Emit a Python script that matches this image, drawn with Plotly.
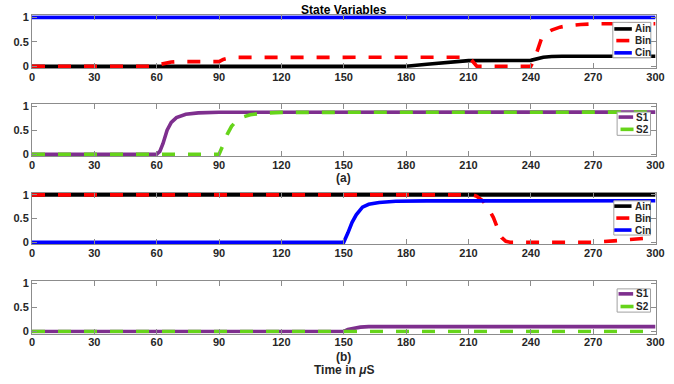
import plotly.graph_objects as go

W, H = 674, 384

# ---------------- data ----------------
x_ticks = [0, 30, 60, 90, 120, 150, 180, 210, 240, 270, 300]
y_ticks = [0, 0.5, 1]
y_ticktext = ["0", "0.5", "1"]

# (a) top panel
t_ain_a = [0, 180, 190, 200, 210, 240, 243, 246, 250, 255, 300]
ain_a   = [0, 0, 0.04, 0.08, 0.115, 0.12, 0.16, 0.185, 0.2, 0.205, 0.205]
t_bin_a = [0, 60, 62, 64, 67, 70, 90, 92, 95, 98, 210, 211, 212.5, 214, 240, 241, 243, 245, 247, 250, 254, 258, 264, 272, 300]
bin_a   = [0, 0, 0.04, 0.065, 0.085, 0.093, 0.095, 0.14, 0.17, 0.18, 0.184, 0.15, 0.06, 0, 0, 0.08, 0.3, 0.55, 0.67, 0.74, 0.8, 0.83, 0.855, 0.868, 0.87]
t_cin_a = [0, 300]
cin_a   = [1, 1]

# (a) second panel
t_s1_a = [0, 60, 61.5, 63, 65, 67, 69.5, 72, 74, 80, 90, 300]
s1_a   = [0, 0, 0.06, 0.22, 0.5, 0.66, 0.76, 0.8, 0.83, 0.86, 0.872, 0.875]
t_s2_a = [0, 90, 92, 94, 96, 99, 102, 105, 110, 120, 300]
s2_a   = [0, 0, 0.2, 0.42, 0.58, 0.72, 0.78, 0.82, 0.85, 0.87, 0.875]

# (b) third panel
t_ain_b = [0, 300]
ain_b   = [1, 1]
t_bin_b = [0, 212, 214, 217, 220, 222, 224, 226, 228, 230, 270, 275, 280, 285, 290, 295, 300]
bin_b   = [1, 1, 0.97, 0.87, 0.68, 0.52, 0.3, 0.1, 0.02, 0, 0, 0.01, 0.03, 0.05, 0.07, 0.085, 0.1]
t_cin_b = [0, 150, 152, 154, 156, 159, 162, 167, 175, 190, 300]
cin_b   = [0, 0, 0.2, 0.42, 0.58, 0.74, 0.8, 0.84, 0.865, 0.872, 0.875]

# (b) fourth panel
t_s1_b = [0, 150, 152, 155, 158, 162, 300]
s1_b   = [0, 0, 0.04, 0.07, 0.09, 0.1, 0.1]
t_s2_b = [0, 300]
s2_b   = [0, 0]

# ---------------- styling ----------------
BLACK, RED, BLUE = "#000000", "#FF0000", "#0000FF"
PURPLE, GREEN = "#7E2F8E", "#66D41A"
AXC = "#8c8c8c"
TXT = "#262626"
FONT = "Liberation Sans"
DASH = "13px,13px"
LW = 3.6

# empirical correction between layout pixels and photographed pixels
OFF, SC = 3.3, 0.982

def px(x):
    return ((x - OFF) / SC) / W

def py(y):
    return 1 - ((y - OFF) / SC) / H

# panel pixel positions (photographed) of data 0 / data 1
X0, X1 = 32.3, 655.7
panels = [(16.7, 65.7), (105.7, 154.0), (194.7, 242.3), (283.3, 331.7)]
PAD = 0.045

fig = go.Figure()

series = [
    (1, t_ain_a, ain_a, "Ain", BLACK, "solid"),
    (1, t_bin_a, bin_a, "Bin", RED, DASH),
    (1, t_cin_a, cin_a, "Cin", BLUE, "solid"),
    (2, t_s1_a, s1_a, "S1", PURPLE, "solid"),
    (2, t_s2_a, s2_a, "S2", GREEN, DASH),
    (3, t_ain_b, ain_b, "Ain", BLACK, "solid"),
    (3, t_bin_b, bin_b, "Bin", RED, DASH),
    (3, t_cin_b, cin_b, "Cin", BLUE, "solid"),
    (4, t_s1_b, s1_b, "S1", PURPLE, "solid"),
    (4, t_s2_b, s2_b, "S2", GREEN, DASH),
]

for k, tx, ty, name, col, dash in series:
    sfx = "" if k == 1 else str(k)
    fig.add_trace(go.Scatter(
        x=tx, y=ty, mode="lines", name=name, showlegend=False,
        line=dict(color=col, width=LW, dash=dash),
        xaxis="x" + sfx, yaxis="y" + sfx, hoverinfo="skip",
    ))

tickfont = dict(family=FONT, size=11, color=TXT, weight="bold")
layout = dict(
    width=W, height=H, margin=dict(l=0, r=0, t=0, b=0),
    paper_bgcolor="white", plot_bgcolor="white", showlegend=False,
)
for i, (top, bot) in enumerate(panels):
    k = i + 1
    sfx = "" if k == 1 else str(k)
    h = bot - top
    dtop = top - PAD * h
    dbot = bot + PAD * h
    layout["xaxis" + sfx] = dict(
        domain=[px(X0), px(X1)], range=[0, 300], tickvals=x_ticks,
        ticks="inside", ticklen=5, tickcolor=AXC, tickwidth=1,
        showline=True, linecolor=AXC, linewidth=1, mirror="ticks",
        showgrid=False, zeroline=False, tickfont=tickfont,
        ticklabelstandoff=-2,
        anchor="y" + sfx, fixedrange=True,
    )
    layout["yaxis" + sfx] = dict(
        domain=[py(dbot), py(dtop)], range=[-PAD, 1 + PAD],
        tickvals=y_ticks, ticktext=y_ticktext,
        ticks="inside", ticklen=5, tickcolor=AXC, tickwidth=1,
        showline=True, linecolor=AXC, linewidth=1, mirror="ticks",
        showgrid=False, zeroline=False, tickfont=tickfont,
        anchor="x" + sfx, fixedrange=True,
    )
fig.update_layout(**layout)

# ---------------- manual legends ----------------
LEGFONT = dict(family=FONT, size=10, color=TXT, weight="bold")
legends = [
    dict(box=(613, 21.7, 651, 57.3), x0=614.5, x1=632, tx=633,
         items=[("Ain", BLACK, "solid", 28.3), ("Bin", RED, DASH, 40.0), ("Cin", BLUE, "solid", 52.3)]),
    dict(box=(617.3, 111.7, 650.7, 135.0), x0=618.7, x1=633.3, tx=634.5,
         items=[("S1", PURPLE, "solid", 116.7), ("S2", GREEN, DASH, 129.0)]),
    dict(box=(614, 200.7, 650.7, 235.0), x0=614.5, x1=631.7, tx=633,
         items=[("Ain", BLACK, "solid", 206.0), ("Bin", RED, DASH, 218.0), ("Cin", BLUE, "solid", 230.0)]),
    dict(box=(617.3, 289.0, 650.7, 312.3), x0=618.7, x1=633.3, tx=634.5,
         items=[("S1", PURPLE, "solid", 294.0), ("S2", GREEN, DASH, 306.7)]),
]
shapes = []
annotations = []
for lg in legends:
    bx0, by0, bx1, by1 = lg["box"]
    shapes.append(dict(type="rect", xref="paper", yref="paper",
                       x0=px(bx0), x1=px(bx1), y0=py(by1), y1=py(by0),
                       line=dict(color="#a0a0a0", width=1), fillcolor="white", layer="above"))
    for name, col, dash, yy in lg["items"]:
        lx0, lx1 = lg["x0"], lg["x1"]
        if dash != "solid":
            lx0, lx1 = lg["x0"] + 2, lg["x0"] + 15
        shapes.append(dict(type="line", xref="paper", yref="paper",
                           x0=px(lx0), x1=px(lx1), y0=py(yy), y1=py(yy),
                           line=dict(color=col, width=LW), layer="above"))
        annotations.append(dict(xref="paper", yref="paper", x=px(lg["tx"]), y=py(yy),
                                text=name, showarrow=False, xanchor="left", yanchor="middle",
                                font=LEGFONT))

LABFONT = dict(family=FONT, size=12, color=TXT, weight="bold")
annotations += [
    dict(xref="paper", yref="paper", x=px(344), y=py(9), text="State Variables",
         showarrow=False, xanchor="center", yanchor="middle",
         font=dict(family=FONT, size=12, color="#000000", weight="bold")),
    dict(xref="paper", yref="paper", x=px(344), y=py(178), text="(a)",
         showarrow=False, xanchor="center", yanchor="middle", font=LABFONT),
    dict(xref="paper", yref="paper", x=px(344), y=py(357), text="(b)",
         showarrow=False, xanchor="center", yanchor="middle", font=LABFONT),
    dict(xref="paper", yref="paper", x=px(344), y=py(370), text="Time in <i>μ</i>S",
         showarrow=False, xanchor="center", yanchor="middle", font=LABFONT),
]
fig.update_layout(shapes=shapes, annotations=annotations)

fig.write_html("out.html")
